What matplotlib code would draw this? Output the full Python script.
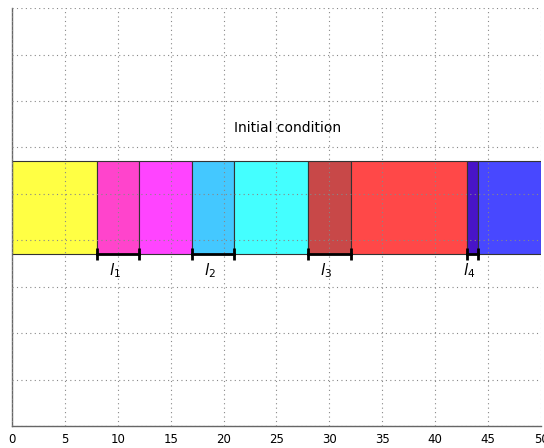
import matplotlib
matplotlib.use("Agg")
import matplotlib.pyplot as plt
from matplotlib.patches import Rectangle

# Data
boundaries = [0, 8, 12, 17, 21, 28, 32, 43, 44, 50]
colors = ["#ffff44", "#ff44cc", "#ff44ff", "#44c8ff", "#44ffff",
          "#c84848", "#ff4848", "#4814c8", "#4848ff"]
intervals = [(8, 12), (17, 21), (28, 32), (43, 44)]
interval_labels = [r"$l_1$", r"$l_2$", r"$l_3$", r"$l_4$"]
xticks = [0, 5, 10, 15, 20, 25, 30, 35, 40, 45, 50]
title_text = "Initial condition"

y_low, y_high = 3.7, 5.7

fig = plt.figure(figsize=(5.44, 4.48), dpi=100)
ax = fig.add_axes([0.022, 0.049, 0.9725, 0.933])
ax.set_xlim(0, 50)
ax.set_ylim(0, 9)

for i, c in enumerate(colors):
    x0, x1 = boundaries[i], boundaries[i + 1]
    ax.add_patch(Rectangle((x0, y_low), x1 - x0, y_high - y_low,
                           facecolor=c, edgecolor="#333333", lw=0.8, zorder=1))

for (a, b), lab in zip(intervals, interval_labels):
    ax.plot([a, b], [y_low, y_low], color="k", lw=2, zorder=4,
            marker="|", ms=8, mew=2)
    ax.text(a + (b - a) / 2 - 0.3, 3.35, lab, ha="center", va="center",
            fontsize=11, zorder=5)

ax.text(26, 6.42, title_text, ha="center", va="center", fontsize=10, zorder=5)

ax.set_xticks(xticks)
ax.set_xticklabels([str(t) for t in xticks], fontsize=8.5)
ax.set_yticks(range(0, 10))
ax.set_yticklabels([])
ax.tick_params(length=0, pad=5)
ax.grid(True, linestyle=(0, (1, 3)), color="#888888", lw=0.8, zorder=2)
ax.set_axisbelow(False)
for s in ["top", "right"]:
    ax.spines[s].set_visible(False)
for s in ["left", "bottom"]:
    ax.spines[s].set_color("#666666")
    ax.spines[s].set_linewidth(1)

fig.savefig("out.png", dpi=100)
